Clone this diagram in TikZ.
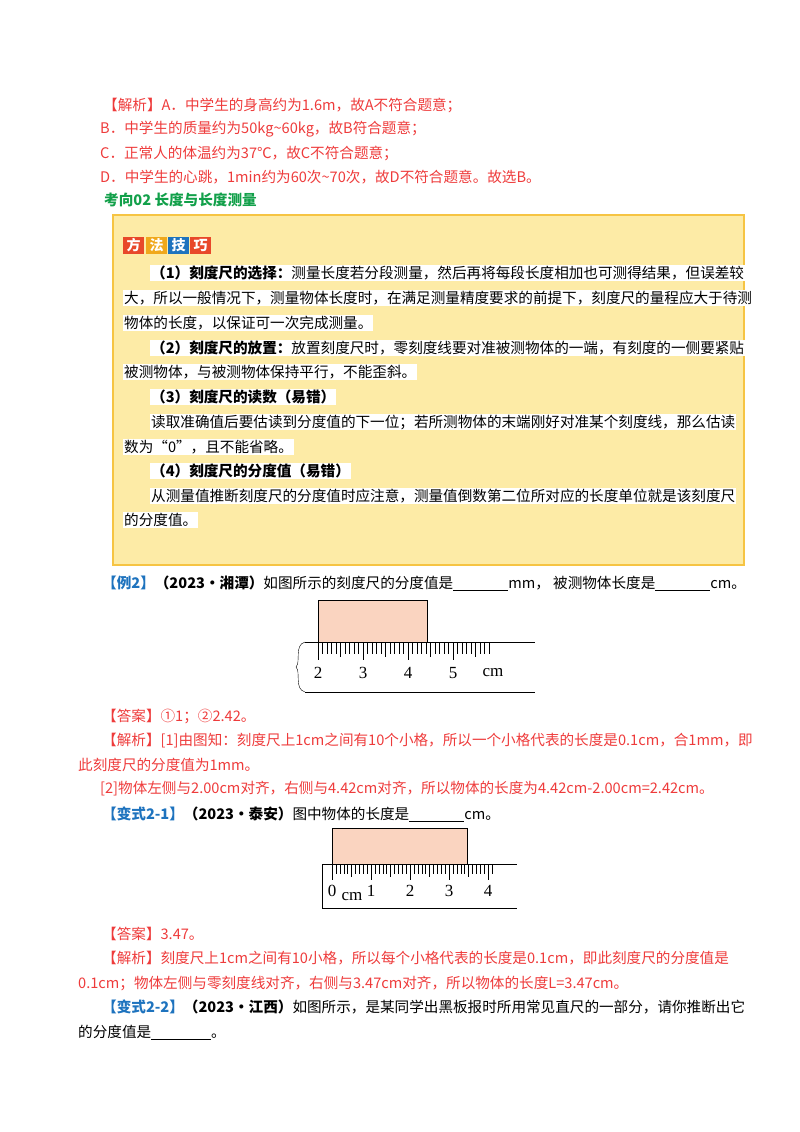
\documentclass[tikz,border=0pt]{standalone}
\usepackage{fontspec}
\setmainfont{Noto Sans CJK SC}
\newfontfamily\rulerfont{Liberation Serif}
\usetikzlibrary{positioning}
\definecolor{ansred}{HTML}{EE3B3B}
\definecolor{tilered}{HTML}{E8482A}
\definecolor{tileorange}{HTML}{F0A81C}
\definecolor{tagblue}{HTML}{1E73BE}
\definecolor{headgreen}{HTML}{12A04A}
\definecolor{boxfill}{HTML}{FDEBA6}
\definecolor{boxline}{HTML}{F6C443}
\definecolor{objfill}{HTML}{FAD4C0}
\newcommand{\blankline}[1]{\rule[-2pt]{#1pt}{0.5pt}}
\begin{document}
\begin{tikzpicture}[x=1pt,y=-1pt,
    txt/.style={anchor=west,inner sep=0pt,font=\fontsize{14.6}{15}\selectfont},
    red/.style={txt,text=ansred},
    hl/.style={txt,fill=white,inner sep=1pt},
    tile/.style={fill=#1,text=white,font=\bfseries\fontsize{14}{14}\selectfont,minimum width=21pt,minimum height=17pt,inner sep=0pt},
    num/.style={font=\rulerfont\fontsize{17}{17}\selectfont,inner sep=0pt}]
  \useasboundingbox (0,0) rectangle (800,1132);

  % previous answer
  \node[red] (a1) at (103,105) {【解析】A．中学生的身高约为1.6m，故A不符合题意；};
  \node[red] (a2) at (100,129) {B．中学生的质量约为50kg\textasciitilde60kg，故B符合题意；};
  \node[red] (a3) at (100,153) {C．正常人的体温约为37℃，故C不符合题意；};
  \node[red] (a4) at (100,177) {D．中学生的心跳，1min约为60次\textasciitilde70次，故D不符合题意。故选B。};
  \node[txt,text=headgreen,font=\bfseries\fontsize{14.6}{15}\selectfont] (kx) at (104,200) {考向02 长度与长度测量};

  % method box
  \draw[boxline,fill=boxfill,line width=1.5pt] (113,215) rectangle (744,565);
  \node[tile=tilered] (t1) at (133.5,245) {方};
  \node[tile=tileorange] (t2) at (156.5,245) {法};
  \node[tile=tagblue] (t3) at (178.5,245) {技};
  \node[tile=tilered] (t4) at (200.5,245) {巧};
  \node[hl] (m1) at (150,273) {\textbf{（1）刻度尺的选择：}测量长度若分段测量，然后再将每段长度相加也可测得结果，但误差较};
  \node[hl] (m2) at (123,298) {大，所以一般情况下，测量物体长度时，在满足测量精度要求的前提下，刻度尺的量程应大于待测};
  \node[hl] (m3) at (123,323) {物体的长度，以保证可一次完成测量。};
  \node[hl] (m4) at (150,348) {\textbf{（2）刻度尺的放置：}放置刻度尺时，零刻度线要对准被测物体的一端，有刻度的一侧要紧贴};
  \node[hl] (m5) at (123,372) {被测物体，与被测物体保持平行，不能歪斜。};
  \node[hl,font=\bfseries\fontsize{14.6}{15}\selectfont] (m6) at (150,397) {（3）刻度尺的读数（易错）};
  \node[hl] (m7) at (150,422) {读取准确值后要估读到分度值的下一位；若所测物体的末端刚好对准某个刻度线，那么估读};
  \node[hl] (m8) at (123,447) {数为“0”，且不能省略。};
  \node[hl,font=\bfseries\fontsize{14.6}{15}\selectfont] (m9) at (150,471) {（4）刻度尺的分度值（易错）};
  \node[hl] (m10) at (150,496) {从测量值推断刻度尺的分度值时应注意，测量值倒数第二位所对应的长度单位就是该刻度尺};
  \node[hl] (m11) at (123,520) {的分度值。};

  % example 2
  \node[txt] (e2) at (102,583) {\textcolor{tagblue}{\textbf{【例2】}}\textbf{（2023·湘潭）}如图所示的刻度尺的分度值是\blankline{55}mm， 被测物体长度是\blankline{55}cm。};
  \draw[fill=objfill] (318,600) rectangle (427,642);
  \draw (305,642) -- (535,642) (305,692) -- (535,692);
  \draw (305,642) .. controls (294,645) and (301,662) .. (296,667) .. controls (301,672) and (294,689) .. (305,692);
  \foreach \i in {0,...,38}{
    \pgfmathsetmacro{\len}{ifthenelse(mod(\i,10)==0,18,ifthenelse(mod(\i,5)==0,15,12))}
    \draw (318+4.5*\i,642) -- ++(0,\len);
  }
  \foreach \n [count=\k from 0] in {2,3,4,5}
    \node[num] (r1n\n) at (318+45*\k,673) {\n};
  \node[num] (r1cm) at (493,673) {cm};

  \node[txt,text=ansred] (s1) at (102,716) {【答案】①1；②2.42。};
  \node[red] (s2) at (102,741) {【解析】[1]由图知：刻度尺上1cm之间有10个小格，所以一个小格代表的长度是0.1cm，合1mm，即};
  \node[red] (s3) at (78,765) {此刻度尺的分度值为1mm。};
  \node[red] (s4) at (100,789) {[2]物体左侧与2.00cm对齐，右侧与4.42cm对齐，所以物体的长度为4.42cm-2.00cm=2.42cm。};
  \node[txt] (v1) at (102,814) {\textcolor{tagblue}{\textbf{【变式2-1】}}\textbf{（2023·泰安）}图中物体的长度是\blankline{55}cm。};

  % variant 2-1 ruler
  \draw[fill=objfill] (332,828) rectangle (467,864);
  \draw (322,864) -- (517,864) (322,908) -- (517,908) (322,864) -- (322,908);
  \foreach \i in {0,...,41}{
    \pgfmathsetmacro{\len}{ifthenelse(mod(\i,10)==0,16,ifthenelse(mod(\i,5)==0,13,10))}
    \draw (332+3.9*\i,864) -- ++(0,\len);
  }
  \foreach \n in {0,...,4}
    \node[num] (r2n\n) at (332+39*\n,891) {\n};
  \node[num] (r2cm) at (352,897) {cm};

  \node[red] (s5) at (102,934) {【答案】3.47。};
  \node[red] (s6) at (102,958) {【解析】刻度尺上1cm之间有10小格，所以每个小格代表的长度是0.1cm，即此刻度尺的分度值是};
  \node[red] (s7) at (78,983) {0.1cm；物体左侧与零刻度线对齐，右侧与3.47cm对齐，所以物体的长度\textit{L}=3.47cm。};
  \node[txt] (v2) at (102,1007) {\textcolor{tagblue}{\textbf{【变式2-2】}}\textbf{（2023·江西）}如图所示，是某同学出黑板报时所用常见直尺的一部分，请你推断出它};
  \node[txt] (v2b) at (78,1032) {的分度值是\blankline{60}。};
\end{tikzpicture}
\end{document}
